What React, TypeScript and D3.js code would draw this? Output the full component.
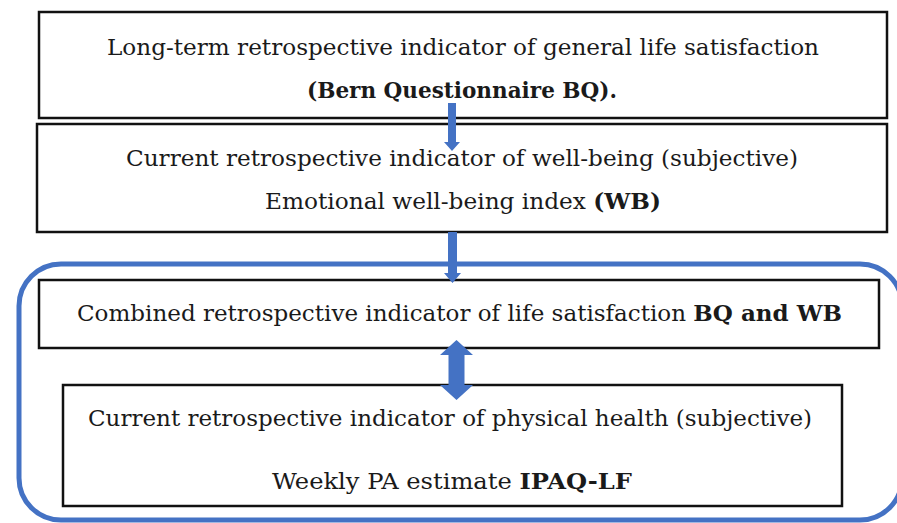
import React, { useEffect, useRef } from "react";
import * as d3 from "d3";

// text of each box, line by line; [text, bold]
type Seg = [string, boolean];

const box1Lines: Seg[][] = [
  [["Long-term retrospective indicator of general life satisfaction", false]],
  [["(Bern Questionnaire BQ).", true]],
];
const box2Lines: Seg[][] = [
  [["Current retrospective indicator of well-being (subjective)", false]],
  [["Emotional well-being index ", false], ["(WB)", true]],
];
const box3Lines: Seg[][] = [
  [["Combined retrospective indicator of life satisfaction ", false], ["BQ and WB", true]],
];
const box4Lines: Seg[][] = [
  [["Current retrospective indicator of physical health (subjective)", false]],
  [["Weekly PA estimate ", false], ["IPAQ-LF", true]],
];

const W = 897;
const H = 523;
const BLUE = "#4472C4";

// layout: box corners, line baselines, line centres and widths
const boxes = [
  { lines: box1Lines, x0: 39, y0: 12, x1: 887, y1: 118, base: [55, 98], cx: [463, 462], tw: [712, 310] },
  { lines: box2Lines, x0: 37, y0: 124, x1: 887, y1: 232, base: [166, 209], cx: [462, 463], tw: [672, 396] },
  { lines: box3Lines, x0: 39, y0: 280, x1: 879, y1: 348, base: [321], cx: [459.5], tw: [765] },
  { lines: box4Lines, x0: 63, y0: 385, x1: 842, y1: 506, base: [426, 489], cx: [450, 452], tw: [724, 360] },
];

export default function App() {
  const ref = useRef<SVGSVGElement>(null);

  useEffect(() => {
    const svg = d3.select(ref.current);
    svg.selectAll("*").remove();

    // outer rounded frame, runs just past the right edge
    svg
      .append("rect")
      .attr("x", 19)
      .attr("y", 264)
      .attr("width", 883)
      .attr("height", 256)
      .attr("rx", 42)
      .attr("fill", "none")
      .attr("stroke", BLUE)
      .attr("stroke-width", 5);

    boxes.forEach((b) => {
      svg
        .append("rect")
        .attr("x", b.x0)
        .attr("y", b.y0)
        .attr("width", b.x1 - b.x0)
        .attr("height", b.y1 - b.y0)
        .attr("fill", "#fff")
        .attr("stroke", "#111")
        .attr("stroke-width", 2.5);

      b.lines.forEach((line, i) => {
        const t = svg
          .append("text")
          .attr("x", b.cx[i])
          .attr("y", b.base[i])
          .attr("text-anchor", "middle")
          .attr("font-family", "DejaVu Serif, serif")
          .attr("font-size", 23)
          .attr("textLength", b.tw[i])
          .attr("lengthAdjust", "spacingAndGlyphs")
          .attr("fill", "#1a1a1a");
        line.forEach(([s, bold]) => {
          t.append("tspan")
            .attr("font-weight", bold ? "bold" : "normal")
            .text(s);
        });
      });
    });

    // down arrows (shaft half-width, head half-width, head length)
    const arrow = (cx: number, y0: number, y1: number, sw: number, hw: number, hl: number) => {
      const p = d3.path();
      p.moveTo(cx - sw, y0);
      p.lineTo(cx + sw, y0);
      p.lineTo(cx + sw, y1 - hl);
      p.lineTo(cx + hw, y1 - hl);
      p.lineTo(cx, y1);
      p.lineTo(cx - hw, y1 - hl);
      p.lineTo(cx - sw, y1 - hl);
      p.closePath();
      svg.append("path").attr("d", p.toString()).attr("fill", BLUE);
    };
    arrow(452, 103, 151, 4, 8, 9);
    arrow(452.5, 232, 283, 4.5, 8.5, 10);

    // double arrow
    const cx = 456.5, top = 340, bot = 400, sw = 8, hw = 16.5, hl = 15;
    const p = d3.path();
    p.moveTo(cx, top);
    p.lineTo(cx + hw, top + hl);
    p.lineTo(cx + sw, top + hl);
    p.lineTo(cx + sw, bot - hl);
    p.lineTo(cx + hw, bot - hl);
    p.lineTo(cx, bot);
    p.lineTo(cx - hw, bot - hl);
    p.lineTo(cx - sw, bot - hl);
    p.lineTo(cx - sw, top + hl);
    p.lineTo(cx - hw, top + hl);
    p.closePath();
    svg.append("path").attr("d", p.toString()).attr("fill", BLUE);
  }, []);

  return (
    <div style={{ position: "absolute", left: 0, top: 0 }}>
      <svg ref={ref} width={W} height={H} style={{ display: "block", background: "#fff" }} />
    </div>
  );
}
